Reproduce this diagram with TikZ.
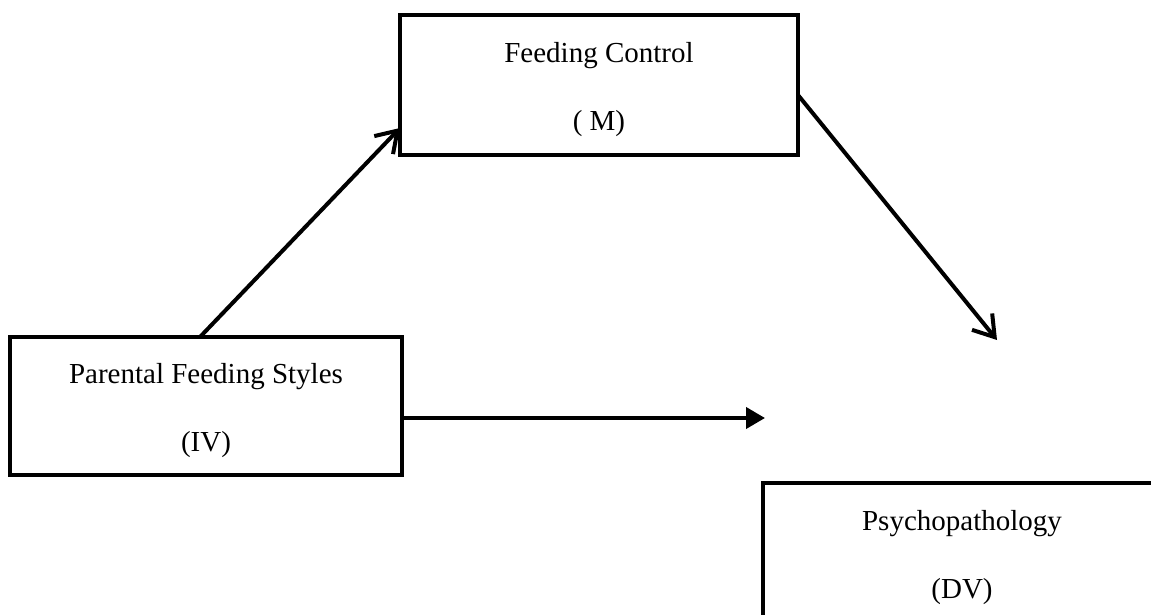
\documentclass[tikz,border=0pt]{standalone}
\usepackage{fontspec}
\setmainfont{Liberation Serif}
\usetikzlibrary{positioning,arrows.meta}
\newcommand{\tstrut}{\rule{0pt}{29pt}}

\begin{document}
\begin{tikzpicture}[x=1pt,y=-1pt,
    var/.style={draw, line width=3.5pt, minimum width=392pt, minimum height=138pt,
        inner sep=0pt, outer sep=0pt, align=center,
        font=\fontsize{29}{68}\selectfont},
    path/.style={line width=4pt, -{Straight Barb[length=20pt,width=26pt]}},
    direct/.style={line width=4pt, -{Triangle[length=19pt,width=21pt]}}]
\useasboundingbox (0,0) rectangle (1151,615);

\node[var] (iv) at (206,406) {\tstrut Parental Feeding Styles\\(IV)};
\node[var, minimum width=398pt, minimum height=140pt] (m) [above right=182pt and -2pt of iv] {\tstrut Feeding Control\\( M)};
\node[var, minimum width=398pt, minimum height=140pt] (dv) [below right=8pt and 361pt of iv] {\tstrut Psychopathology\\(DV)};

\coordinate (dvin) at ([shift={(35pt,143pt)}]dv.north);
\coordinate (ivout) at ([yshift=-12pt]iv.east);

\draw[path] ([xshift=-6pt]iv.north) -- ([yshift=-43pt]m.west);
\draw[path] ([yshift=-10pt]m.east) -- (dvin);
\draw[direct] (ivout) -- ([xshift=2pt]ivout -| dv.west);
\end{tikzpicture}
\end{document}
